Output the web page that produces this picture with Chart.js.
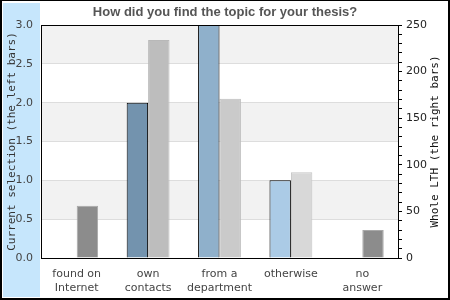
<!DOCTYPE html>
<html>
<head>
<meta charset="utf-8">
<script src="https://cdn.jsdelivr.net/npm/chart.js@4"></script>
<style>
    html, body { margin: 0; padding: 0; background: #fff; }
    #wrap { width: 450px; height: 300px; }
</style>
</head>
<body>
<div id="wrap"><canvas id="myChart" width="450" height="300"></canvas></div>
<script>
var categories = [['found on', 'Internet'], ['own', 'contacts'], ['from a', 'department'], 'otherwise', ['no', 'answer']];
var currentSelection = [0, 2, 3, 1, 0];
var wholeLTH = [56, 234, 171, 92, 30];
var leftTicks = [0, 0.5, 1, 1.5, 2, 2.5, 3];
var rightTickLabels = [0, 50, 100, 150, 200, 250];

var leftColors = ['#7393ae', '#7393ae', '#8fb0cb', '#abcbe6', '#abcbe6'];
var rightColors = ['#8c8c8c', '#bdbdbd', '#cacaca', '#d8d8d8', '#8c8c8c'];
var rightBorders = ['#a8a8a8', '#b8b8b8', '#bdbdbd', '#c4c4c4', '#a8a8a8'];

// page frame, blue band on the left and striped plot background
var framePlugin = {
    id: 'frame',
    beforeDraw: function(chart) {
        var c = chart.ctx;
        c.save();
        c.fillStyle = '#fff';
        c.fillRect(0, 0, chart.width, chart.height);
        c.fillStyle = '#c6e6fc';
        c.fillRect(3, 3, 37, 294);
        var a = chart.chartArea;
        var y = chart.scales.y;
        c.fillStyle = '#f2f2f2';
        for (var i = 0; i < leftTicks.length - 1; i++) {
            if (i % 2 == 1) {
                var top = y.getPixelForValue(leftTicks[i + 1]);
                var bot = y.getPixelForValue(leftTicks[i]);
                c.fillRect(a.left, top, a.right - a.left, bot - top);
            }
        }
        c.restore();
    },
    afterDraw: function(chart) {
        var c = chart.ctx;
        var a = chart.chartArea;
        c.save();
        c.strokeStyle = '#000';
        c.lineWidth = 1;
        c.beginPath();
        c.moveTo(a.left, Math.round(a.top) + 0.5);
        c.lineTo(a.right, Math.round(a.top) + 0.5);
        c.stroke();

        // right axis title, read bottom to top like the left one
        c.translate(435, (a.top + a.bottom) / 2);
        c.rotate(-Math.PI / 2);
        c.fillStyle = '#111';
        c.font = '11px "DejaVu Sans Mono"';
        c.textAlign = 'center';
        c.textBaseline = 'middle';
        c.fillText('Whole LTH (the right bars)', 0, 0);
        c.setTransform(1, 0, 0, 1, 0, 0);

        c.fillStyle = '#000';
        c.fillRect(0, 0, chart.width, 1);
        c.fillRect(0, 0, 2, chart.height);
        c.fillRect(chart.width - 2, 0, 2, chart.height);
        c.fillRect(0, chart.height - 2, chart.width, 2);
        c.restore();
    }
};

var ctx = document.getElementById('myChart');

var myChart = new Chart(ctx, {
    type: 'bar',
    data: {
        labels: categories,
        datasets: [{
            label: 'Current selection',
            data: currentSelection,
            yAxisID: 'y',
            backgroundColor: leftColors,
            borderColor: '#000',
            borderWidth: 1,
            borderSkipped: 'bottom',
            categoryPercentage: 0.6,
            barPercentage: 1.0
        }, {
            label: 'Whole LTH',
            data: wholeLTH,
            yAxisID: 'y1',
            backgroundColor: rightColors,
            borderColor: rightBorders,
            borderWidth: 1,
            borderSkipped: 'bottom',
            categoryPercentage: 0.6,
            barPercentage: 1.0
        }]
    },
    options: {
        responsive: false,
        animation: false,
        events: [],
        layout: { padding: 0 },
        plugins: {
            legend: { display: false },
            tooltip: { enabled: false },
            title: {
                display: true,
                text: 'How did you find the topic for your thesis?',
                color: '#555',
                font: { family: 'Liberation Sans', size: 13, weight: 'bold', lineHeight: '16px' },
                padding: { top: 4, bottom: 5 }
            }
        },
        scales: {
            x: {
                grid: { display: false, drawTicks: false },
                border: { display: true, color: '#000', width: 1 },
                ticks: {
                    color: '#444',
                    font: { family: 'DejaVu Sans', size: 11 },
                    padding: 10,
                    maxRotation: 0,
                    autoSkip: false
                },
                afterFit: function(s) { s.height = 42; }
            },
            y: {
                position: 'left',
                min: 0,
                max: 3,
                afterBuildTicks: function(s) {
                    s.ticks = leftTicks.map(function(v) { return { value: v }; });
                },
                grid: { color: '#dddddd', drawTicks: false },
                border: { display: true, color: '#000', width: 1 },
                ticks: {
                    color: '#444',
                    font: { family: 'DejaVu Sans', size: 11 },
                    padding: 8,
                    callback: function(v) { return v.toFixed(1); }
                },
                title: {
                    display: true,
                    text: 'Current selection (the left bars)',
                    color: '#333',
                    font: { family: 'DejaVu Sans Mono', size: 11 },
                    padding: { top: 6, bottom: 0 }
                },
                afterFit: function(s) { s.width = 41; }
            },
            y1: {
                position: 'right',
                min: 0,
                max: 250,
                ticks: {
                    stepSize: 10,
                    color: '#222',
                    font: { family: 'DejaVu Sans', size: 11 },
                    padding: 4,
                    autoSkip: false,
                    callback: function(v) {
                        return rightTickLabels.indexOf(v) >= 0 ? String(v) : '';
                    }
                },
                grid: { drawOnChartArea: false, color: '#000', tickLength: 4 },
                border: { display: true, color: '#000', width: 1 },
                afterFit: function(s) { s.width = 52; }
            }
        }
    },
    plugins: [framePlugin]
});
</script>
</body>
</html>
